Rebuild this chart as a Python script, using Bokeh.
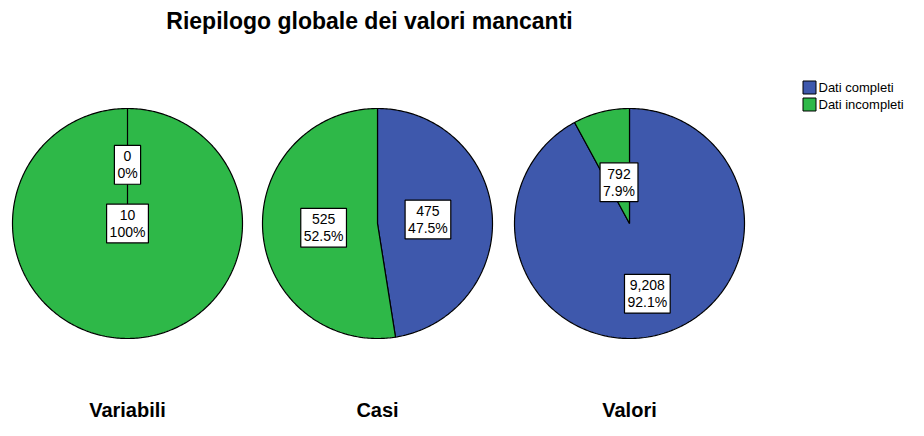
import numpy as np
from bokeh.plotting import figure
from bokeh.models import Range1d, ColumnDataSource, Label
from bokeh.core.properties import value
from bokeh.embed import file_html
from bokeh.resources import INLINE

title = "Riepilogo globale dei valori mancanti"
panels = ["Variabili", "Casi", "Valori"]
series = ["Dati completi", "Dati incompleti"]
completi = [0, 475, 9208]
incompleti = [10, 525, 792]
colors = ["#3E58AC", "#2EB848"]

# layout (picture pixel coordinates; y measured from top)
W, H = 908, 420
centers_x = [127, 377, 629]
center_y = 223
R = 115
# radial placement of labels (fraction of radius) per panel/slice
label_frac = [[0.51, 0.0], [0.44, 0.47], [0.63, 0.37]]

p = figure(width=W, height=H, output_backend="svg", toolbar_location=None,
           x_range=Range1d(0, W), y_range=Range1d(0, H), min_border=0)
p.axis.visible = False
p.grid.visible = False
p.outline_line_color = None
p.background_fill_color = "white"

def Y(y):
    return H - y

for i, name in enumerate(panels):
    vals = [completi[i], incompleti[i]]
    total = sum(vals)
    cx, cy = centers_x[i], center_y
    cum = 0.0
    lx, ly, lt = [], [], []
    for j, v in enumerate(vals):
        frac = v / total
        t0 = cum * 2 * np.pi
        t1 = (cum + frac) * 2 * np.pi
        n = max(2, int(frac * 400))
        th = np.linspace(t0, t1, n)
        xs = [cx] + list(cx + R * np.sin(th)) + [cx]
        ys = [Y(cy)] + list(Y(cy) + R * np.cos(th)) + [Y(cy)]
        p.patch(xs, ys, fill_color=colors[j], line_color="black", line_width=1.2)
        mid = (t0 + t1) / 2
        rf = label_frac[i][j]
        lx.append(cx + rf * R * np.sin(mid))
        ly.append(Y(cy) + rf * R * np.cos(mid))
        pct = frac * 100
        pct_s = f"{pct:.0f}%" if abs(pct - round(pct)) < 1e-9 else f"{pct:.1f}%"
        lt.append(f"{v:,}\n{pct_s}")
        cum += frac
    src = ColumnDataSource(dict(x=lx, y=ly, t=lt))
    p.text(x="x", y="y", text="t", source=src, text_align="center",
           text_baseline="middle", text_font=value("Liberation Sans"),
           text_font_size="14px", text_color="black", text_line_height=1.05,
           background_fill_color="white", border_line_color="black",
           border_line_width=1.2, padding=3)
    p.add_layout(Label(x=cx, y=Y(409), text=name, text_align="center",
                       text_baseline="middle", text_font="Liberation Sans",
                       text_font_style="bold", text_font_size="20px",
                       text_color="black"))

p.add_layout(Label(x=369, y=Y(20), text=title, text_align="center",
                   text_baseline="middle", text_font="Liberation Sans",
                   text_font_style="bold", text_font_size="23px",
                   text_color="black"))

# legend
for j, s in enumerate(series):
    ly = Y(87 + j * 17)
    p.rect(x=[809], y=[ly], width=13, height=13, fill_color=colors[j],
           line_color="black", line_width=1)
    p.add_layout(Label(x=818, y=ly, text=s, text_align="left",
                       text_baseline="middle", text_font="Liberation Sans",
                       text_font_size="13px", text_color="black"))

open("out.html", "w").write(file_html(p, INLINE))
